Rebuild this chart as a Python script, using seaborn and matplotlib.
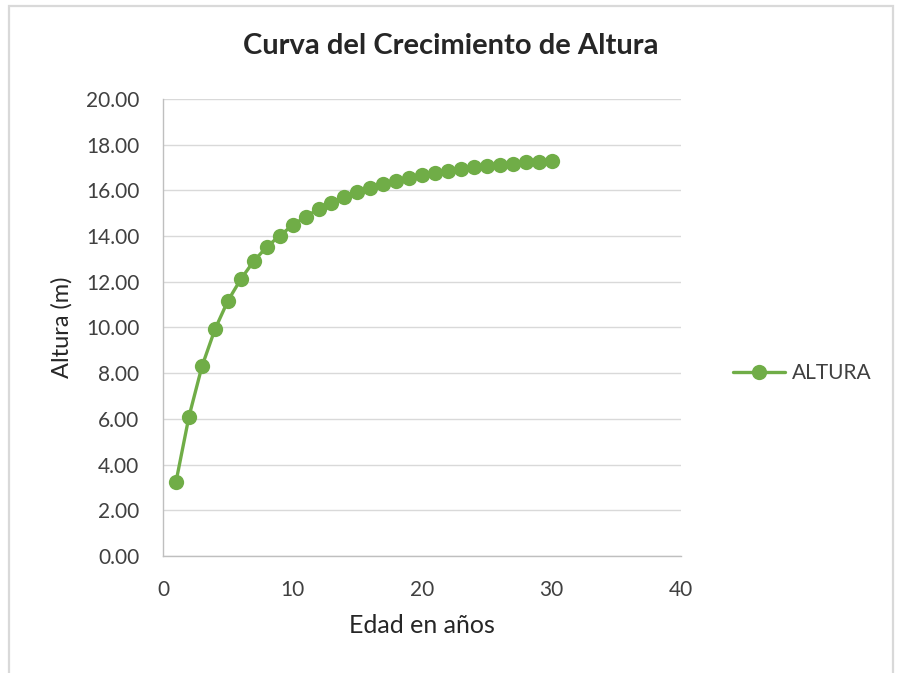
import matplotlib
matplotlib.use("Agg")
import matplotlib.pyplot as plt
from matplotlib.patches import Rectangle
import seaborn as sns
import pandas as pd

# Age (years) and tree height (m)
edad = list(range(1, 31))
altura = [3.25, 6.10, 8.29, 9.91, 11.16, 12.11, 12.90, 13.52, 14.01, 14.47,
          14.85, 15.17, 15.45, 15.72, 15.92, 16.11, 16.27, 16.41, 16.55, 16.65,
          16.74, 16.83, 16.93, 17.00, 17.06, 17.12, 17.17, 17.22, 17.26, 17.29]
serie = "ALTURA"

x_ticks = [0, 10, 20, 30, 40]
y_ticks = [0, 2, 4, 6, 8, 10, 12, 14, 16, 18, 20]

df = pd.DataFrame({"Edad": edad, "Altura": altura, "Serie": serie})

sns.set_theme(style="white")
plt.rcParams["font.family"] = ["Lato", "DejaVu Sans"]

fig = plt.figure(figsize=(9.01, 6.73), dpi=100)
ax = fig.add_axes([0.181, 0.174, 0.575, 0.679])

green = "#70AD47"
sns.lineplot(data=df, x="Edad", y="Altura", hue="Serie", palette=[green],
             marker="o", markersize=11, markeredgewidth=0, linewidth=2.4,
             ax=ax)

ax.set_xlim(0, 40)
ax.set_ylim(0, 20)
ax.set_xticks(x_ticks)
ax.set_yticks(y_ticks)
ax.set_yticklabels([f"{v:.2f}" for v in y_ticks])
ax.tick_params(axis="both", labelsize=15, colors="#404040", length=0)
ax.tick_params(axis="x", pad=17)
ax.tick_params(axis="y", pad=17)
ax.yaxis.grid(True, color="#d9d9d9", linewidth=1)
ax.xaxis.grid(False)
for side in ["top", "right"]:
    ax.spines[side].set_visible(False)
for side in ["left", "bottom"]:
    ax.spines[side].set_color("#bfbfbf")
    ax.spines[side].set_linewidth(1)

ax.set_xlabel("Edad en años", fontsize=18, color="#262626", va="center")
ax.xaxis.set_label_coords(0.5, -0.152)
ax.set_ylabel("Altura (m)", fontsize=17, color="#262626", va="center")
ax.yaxis.set_label_coords(-0.195, 0.5)
fig.text(0.5, 0.931, "Curva del Crecimiento de Altura", ha="center", va="center",
         fontsize=21, fontweight="bold", color="#262626")

leg = ax.legend(loc="center left", bbox_to_anchor=(1.1, 0.40), frameon=False,
                fontsize=15, handlelength=2.5, handletextpad=0.35,
                borderpad=0, borderaxespad=0)
for t in leg.get_texts():
    t.set_color("#404040")

# Chart frame
fig.patches.append(Rectangle((0.010, -0.05), 0.981, 1.041, transform=fig.transFigure,
                             fill=False, edgecolor="#d9d9d9", linewidth=1.6))

fig.savefig("out.png", dpi=100)
